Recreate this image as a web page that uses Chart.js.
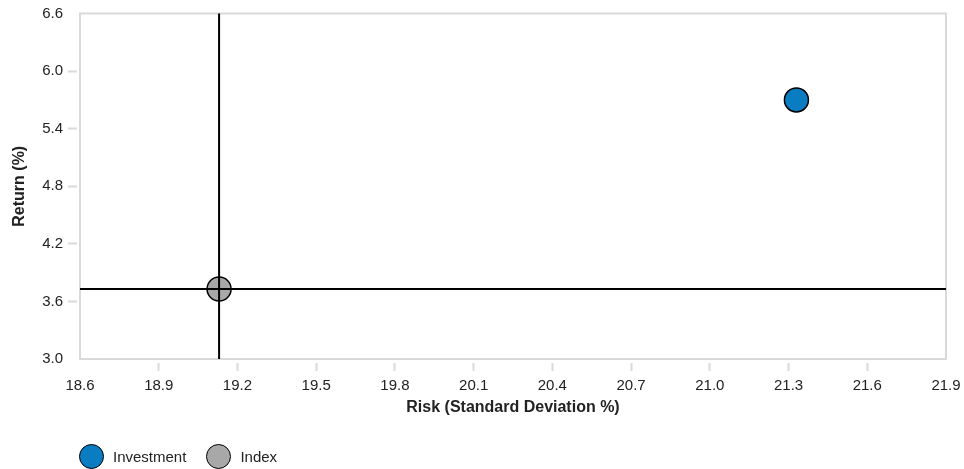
<!DOCTYPE html>
<html>
<head>
<meta charset="utf-8">
<script src="https://cdn.jsdelivr.net/npm/chart.js@4"></script>
<style>
  html, body { margin: 0; padding: 0; background: #fff; }
  #wrap { position: relative; width: 964px; height: 469px; }
  #legend {
    position: absolute; left: 79px; top: 444px;
    display: flex; align-items: center;
    font: 15px "Liberation Sans", Arial, sans-serif; color: #222;
  }
  #legend .item { display: flex; align-items: center; margin-right: 20px; }
  #legend .dot {
    width: 25px; height: 25px; border-radius: 50%;
    border: 1.5px solid #000; box-sizing: border-box; margin-right: 9px;
  }
</style>
</head>
<body>
<div id="wrap">
  <canvas id="riskChart" width="964" height="469"></canvas>
  <div id="legend"></div>
</div>
<script>
// chart values
const seriesNames = ['Investment', 'Index'];
const seriesColors = ['#0a7dc2', '#a8a8a8'];
const riskValues = [21.33, 19.13];   // x: standard deviation %
const returnValues = [5.70, 3.73];   // y: return %
const xRange = [18.6, 21.9];
const xStep = 0.3;
const yRange = [3.0, 6.6];
const yStep = 0.6;
const crossIndex = 1; // crosshair drawn through the Index point

const FONT = '"Liberation Sans", Arial, sans-serif';
const TEXT = '#222';
const FRAME = '#d9d9d9';

// light gray box round the plot area
const framePlugin = {
  id: 'frame',
  beforeDatasetsDraw(chart) {
    const { ctx, chartArea: a } = chart;
    ctx.save();
    ctx.strokeStyle = FRAME;
    ctx.lineWidth = 2;
    ctx.strokeRect(a.left, a.top, a.right - a.left, a.bottom - a.top);
    ctx.restore();
  }
};

// black crosshair through the index point
const crossPlugin = {
  id: 'cross',
  afterDatasetsDraw(chart) {
    const { ctx, chartArea: a, scales } = chart;
    const px = scales.x.getPixelForValue(riskValues[crossIndex]);
    const py = scales.y.getPixelForValue(returnValues[crossIndex]);
    ctx.save();
    ctx.strokeStyle = '#000';
    ctx.lineWidth = 2;
    ctx.beginPath();
    ctx.moveTo(px, a.top);
    ctx.lineTo(px, a.bottom);
    ctx.moveTo(a.left, py);
    ctx.lineTo(a.right, py);
    ctx.stroke();
    ctx.restore();
  }
};

// hide the first and last tick marks
const innerTick = ctx => (ctx.index === 0 || ctx.index === ctx.scale.ticks.length - 1) ? 'rgba(0,0,0,0)' : FRAME;

const datasets = seriesNames.map((name, i) => ({
  label: name,
  data: [{ x: riskValues[i], y: returnValues[i] }],
  backgroundColor: seriesColors[i],
  borderColor: '#000',
  borderWidth: 1.5,
  pointRadius: 12,
  pointHoverRadius: 12
}));

new Chart(document.getElementById('riskChart'), {
  type: 'scatter',
  data: { datasets: datasets },
  options: {
    responsive: false,
    animation: false,
    layout: { padding: { top: 11, right: 18, bottom: 50, left: 0 } },
    plugins: { legend: { display: false }, tooltip: { enabled: false } },
    scales: {
      x: {
        type: 'linear',
        min: xRange[0],
        max: xRange[1],
        afterFit: s => { s.height = 60; s.paddingLeft = 0; s.paddingRight = 0; },
        border: { display: false },
        grid: {
          drawOnChartArea: false,
          tickLength: 12,
          tickColor: innerTick,
          tickWidth: 2,
          tickBorderDash: [0, 4, 8, 100]
        },
        ticks: {
          stepSize: xStep,
          autoSkip: false,
          maxRotation: 0,
          padding: 6,
          color: TEXT,
          font: { family: FONT, size: 15 },
          callback: v => Number(v).toFixed(1)
        },
        title: {
          display: true,
          text: 'Risk (Standard Deviation %)',
          color: TEXT,
          font: { family: FONT, size: 16, weight: 'bold' },
          padding: { top: 0, bottom: 2 }
        }
      },
      y: {
        type: 'linear',
        min: yRange[0],
        max: yRange[1],
        afterFit: s => { s.width = 80; s.paddingTop = 0; s.paddingBottom = 0; },
        border: { display: false },
        grid: {
          drawOnChartArea: false,
          tickLength: 12,
          tickColor: innerTick,
          tickWidth: 2,
          tickBorderDash: [9, 100]
        },
        ticks: {
          stepSize: yStep,
          padding: 5,
          color: TEXT,
          font: { family: FONT, size: 15 },
          callback: v => Number(v).toFixed(1)
        },
        title: {
          display: true,
          text: 'Return (%)',
          color: TEXT,
          font: { family: FONT, size: 16, weight: 'bold' },
          padding: { top: 10, bottom: 0 }
        }
      }
    }
  },
  plugins: [framePlugin, crossPlugin]
});

// legend under the plot
const legendBox = document.getElementById('legend');
seriesNames.forEach((name, i) => {
  const item = document.createElement('span');
  item.className = 'item';
  item.innerHTML = `<span class="dot" style="background:${seriesColors[i]}"></span><span>${name}</span>`;
  legendBox.appendChild(item);
});
</script>
</body>
</html>
